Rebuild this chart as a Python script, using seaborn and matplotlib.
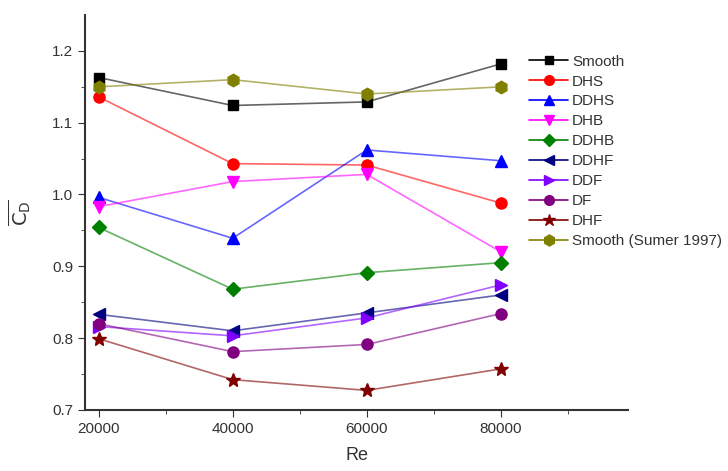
import pandas as pd
import numpy as np
import matplotlib
matplotlib.use("Agg")
import matplotlib.pyplot as plt
import seaborn as sns
from matplotlib.lines import Line2D

# Re values (x) and drag coefficients per case
re_vals = [20000, 40000, 60000, 80000]
smooth = [1.163, 1.124, 1.129, 1.182]
dhs = [1.136, 1.043, 1.041, 0.988]
ddhs = [0.996, 0.939, 1.062, 1.047]
dhb = [0.983, 1.018, 1.028, 0.920]
ddhb = [0.954, 0.868, 0.891, 0.905]
ddhf = [0.833, 0.810, 0.835, 0.860]
ddf = [0.816, 0.803, 0.828, 0.874]
df_ = [0.820, 0.781, 0.791, 0.834]
dhf = [0.799, 0.742, 0.727, 0.757]
sumer = [1.150, 1.160, 1.140, 1.150]

names = ['Smooth', 'DHS', 'DDHS', 'DHB', 'DDHB', 'DDHF', 'DDF', 'DF', 'DHF', 'Smooth (Sumer 1997)']
series = [smooth, dhs, ddhs, dhb, ddhb, ddhf, ddf, df_, dhf, sumer]
colors = ['#000000', '#ff0000', '#0000ff', '#ff00ff', '#008000', '#000080', '#8000ff', '#800080', '#800000', '#808000']
markers = ['s', 'o', '^', 'v', 'D', '<', '>', 'o', '*', 'h']
msizes = [7, 8, 8, 8, 7, 8, 8, 8, 10, 9]

rows = []
for n, vals in zip(names, series):
    for x, y in zip(re_vals, vals):
        rows.append({'Re': x, 'CD': y, 'case': n})
data = pd.DataFrame(rows)

sns.set_style('ticks')
plt.rcParams['font.family'] = ['Liberation Sans', 'DejaVu Sans']

fig = plt.figure(figsize=(7.28, 4.71), dpi=100)
ax = fig.add_axes([0.117, 0.13, 0.746, 0.838])

for n, c, m, ms in zip(names, colors, markers, msizes):
    sub = data[data['case'] == n]
    sns.lineplot(data=sub, x='Re', y='CD', ax=ax, color=c, lw=1.2, alpha=0.6, legend=False)
    ax.plot(sub['Re'], sub['CD'], linestyle='none', marker=m, ms=ms, color=c, zorder=3)

# legend handles (line + marker)
handles = [Line2D([], [], color=c, marker=m, ms=ms - 1, lw=1.2) for c, m, ms in zip(colors, markers, msizes)]
leg = ax.legend(handles, names, loc='upper left', bbox_to_anchor=(0.818, 0.9), frameon=False,
                fontsize=11, handlelength=2.5, handletextpad=0.3, labelspacing=0.39,
                borderaxespad=0, borderpad=0)
for t in leg.get_texts():
    t.set_color('#333333')

ax.set_xlim(18000, 99000)
ax.set_ylim(0.7, 1.25)
ax.set_xticks([20000, 40000, 60000, 80000])
ax.set_xticks([30000, 50000, 70000, 90000], minor=True)
ax.set_yticks([0.7, 0.8, 0.9, 1.0, 1.1, 1.2])
ax.set_yticks([0.75, 0.85, 0.95, 1.05, 1.15], minor=True)
ax.tick_params(axis='both', which='major', labelsize=11, colors='#333333', length=5, direction='out')
ax.tick_params(axis='both', which='minor', length=3, direction='out', colors='#333333')
ax.set_xlabel('Re', fontsize=13, color='#333333', labelpad=8)
ax.set_ylabel(r'$\overline{\mathrm{C}_\mathrm{D}}$', fontsize=14, color='#333333', labelpad=14)
sns.despine(ax=ax)
for s in ['left', 'bottom']:
    ax.spines[s].set_linewidth(1.5)
    ax.spines[s].set_color('#333333')

fig.savefig('out.png', dpi=100)
